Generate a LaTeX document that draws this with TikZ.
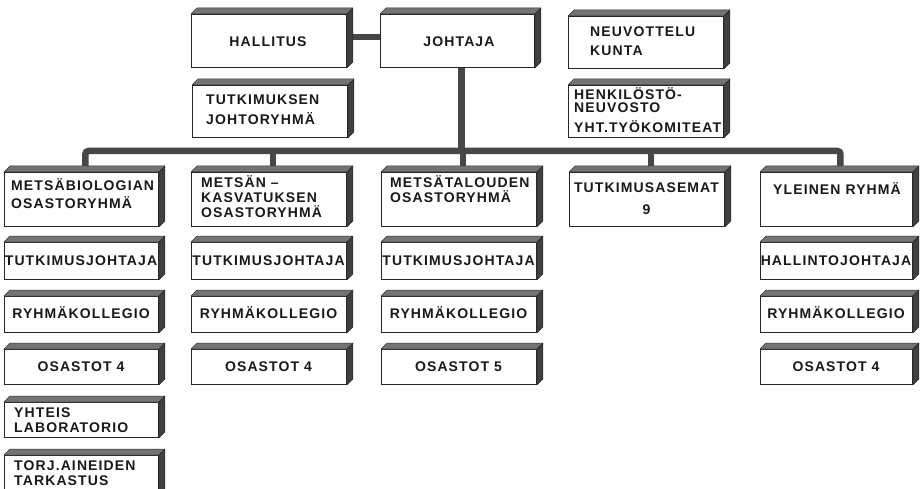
\documentclass[tikz,border=0pt]{standalone}
\usepackage{fontspec}
\setmainfont{Liberation Sans}
\newfontfamily\labfont{Liberation Sans}[LetterSpace=8]
\usetikzlibrary{backgrounds}
\tikzset{
  frontbox/.style={draw=black!85, line width=0.9pt, fill=white, anchor=north west, inner sep=0pt},
  topface/.style={fill=black!55, draw=black!80, line width=0.5pt, line join=round},
  sideface/.style={fill=black!75, draw=black!85, line width=0.5pt, line join=round},
  bar/.style={line width=6.5pt, draw=black!72},
  lbl/.style={font=\labfont\bfseries\fontsize{14}{16}\selectfont, text=black!90, inner sep=0pt},
  lc/.style={lbl, anchor=base},
  ll/.style={lbl, anchor=base west}
}
\newcommand{\boxdepth}[1]{%
  \filldraw[topface] (#1.north west) -- ++(6,-6) -- ([shift={(6,-6)}]#1.north east) -- (#1.north east) -- cycle;
  \filldraw[sideface] (#1.north east) -- ++(6,-6) -- ([shift={(6,-6)}]#1.south east) -- (#1.south east) -- cycle;}
\begin{document}
\begin{tikzpicture}[x=1pt, y=-1pt]
\useasboundingbox (0,0) rectangle (920,489);
% boxes
\node[frontbox, minimum width=155pt, minimum height=53pt] (hal) at (191,14) {};
\node[frontbox, minimum width=154pt, minimum height=53pt] (joh) at (380,14) {};
\node[frontbox, minimum width=155pt, minimum height=52pt] (neu) at (568,16) {};
\node[frontbox, minimum width=155pt, minimum height=52pt] (tjr) at (192,85) {};
\node[frontbox, minimum width=155pt, minimum height=52pt] (hen) at (568,85) {};
\node[frontbox, minimum width=154pt, minimum height=54pt] (bio) at (4,172) {};
\node[frontbox, minimum width=155pt, minimum height=54pt] (kas) at (191,172) {};
\node[frontbox, minimum width=155pt, minimum height=54pt] (tal) at (381,172) {};
\node[frontbox, minimum width=155pt, minimum height=54pt] (ase) at (569,172) {};
\node[frontbox, minimum width=152pt, minimum height=54pt] (yle) at (760,172) {};
\node[frontbox, minimum width=154pt, minimum height=37pt] (tja) at (4,242) {};
\node[frontbox, minimum width=155pt, minimum height=37pt] (tjb) at (191,242) {};
\node[frontbox, minimum width=155pt, minimum height=37pt] (tjc) at (381,242) {};
\node[frontbox, minimum width=152pt, minimum height=37pt] (hjo) at (760,242) {};
\node[frontbox, minimum width=154pt, minimum height=36pt] (rka) at (4,296) {};
\node[frontbox, minimum width=155pt, minimum height=36pt] (rkb) at (191,296) {};
\node[frontbox, minimum width=155pt, minimum height=36pt] (rkc) at (381,296) {};
\node[frontbox, minimum width=152pt, minimum height=36pt] (rke) at (760,296) {};
\node[frontbox, minimum width=154pt, minimum height=35pt] (osa) at (4,349) {};
\node[frontbox, minimum width=155pt, minimum height=35pt] (osb) at (191,349) {};
\node[frontbox, minimum width=155pt, minimum height=35pt] (osc) at (381,349) {};
\node[frontbox, minimum width=152pt, minimum height=35pt] (ose) at (760,349) {};
\node[frontbox, minimum width=154pt, minimum height=35pt] (yht) at (4,402) {};
\node[frontbox, minimum width=154pt, minimum height=50pt] (tor) at (4,455) {};
\foreach \n in {hal,joh,neu,tjr,hen,bio,kas,tal,ase,yle,tja,tjb,tjc,hjo,rka,rkb,rkc,rke,osa,osb,osc,ose,yht,tor}{\boxdepth{\n}}
% connectors
\coordinate (bus) at (0,151);
\begin{scope}[on background layer]
\fill[white] (0,0) rectangle (920,489);
\draw[bar] ([yshift=4]hal.east) -- ([yshift=4]joh.west);
\draw[bar] ([xshift=4]joh.south) -- ([xshift=4]joh.south |- bus);
\draw[bar, rounded corners=3pt] ([xshift=4]bio.north) -- ([xshift=4]bio.north |- bus) -- ([xshift=4]yle.north |- bus) -- ([xshift=4]yle.north);
\draw[bar] ([xshift=4]kas.north) -- ([xshift=4]kas.north |- bus);
\draw[bar] ([xshift=4]tal.north) -- ([xshift=4]tal.north |- bus);
\draw[bar] ([xshift=4]ase.north) -- ([xshift=4]ase.north |- bus);
\end{scope}
% texts
\node[lc] (hal-t) at (268,47) {HALLITUS};
\node[lc] (joh-t) at (459,47) {JOHTAJA};
\node[ll] (neu-1) at (590,37) {NEUVOTTELU};
\node[ll] (neu-2) at (590,56) {KUNTA};
\node[ll] (tjr-1) at (206,105) {TUTKIMUKSEN};
\node[ll] (tjr-2) at (206,125) {JOHTORYHMÄ};
\node[ll] (hen-1) at (574,100) {HENKILÖSTÖ-};
\node[ll] (hen-2) at (574,113) {NEUVOSTO};
\node[ll] (hen-3) at (574,133) {YHT.TYÖKOMITEAT};
\node[ll] (bio-1) at (11,190) {METSÄBIOLOGIAN};
\node[ll] (bio-2) at (11,208) {OSASTORYHMÄ};
\node[ll] (kas-1) at (201,187) {METSÄN –};
\node[ll] (kas-2) at (201,202) {KASVATUKSEN};
\node[ll] (kas-3) at (201,217) {OSASTORYHMÄ};
\node[ll] (tal-1) at (390,187) {METSÄTALOUDEN};
\node[ll] (tal-2) at (390,202) {OSASTORYHMÄ};
\node[lc] (ase-1) at (646.5,193) {TUTKIMUSASEMAT};
\node[lc] (ase-2) at (646.5,214) {9};
\node[lc] (yle-t) at (837,194) {YLEINEN RYHMÄ};
\node[lc] (tja-t) at (81,265) {TUTKIMUSJOHTAJA};
\node[lc] (tjb-t) at (268.5,265) {TUTKIMUSJOHTAJA};
\node[lc] (tjc-t) at (458.5,265) {TUTKIMUSJOHTAJA};
\node[lc] (hjo-t) at (836,265) {HALLINTOJOHTAJA};
\node[lc] (rka-t) at (81,318) {RYHMÄKOLLEGIO};
\node[lc] (rkb-t) at (268.5,318) {RYHMÄKOLLEGIO};
\node[lc] (rkc-t) at (458.5,318) {RYHMÄKOLLEGIO};
\node[lc] (rke-t) at (836,318) {RYHMÄKOLLEGIO};
\node[lc] (osa-t) at (81,371) {OSASTOT 4};
\node[lc] (osb-t) at (268.5,371) {OSASTOT 4};
\node[lc] (osc-t) at (458.5,371) {OSASTOT 5};
\node[lc] (ose-t) at (836,371) {OSASTOT 4};
\node[ll] (yht-1) at (14,417) {YHTEIS};
\node[ll] (yht-2) at (14,432) {LABORATORIO};
\node[ll] (tor-1) at (14,470) {TORJ.AINEIDEN};
\node[ll] (tor-2) at (14,485) {TARKASTUS};
\end{tikzpicture}
\end{document}
